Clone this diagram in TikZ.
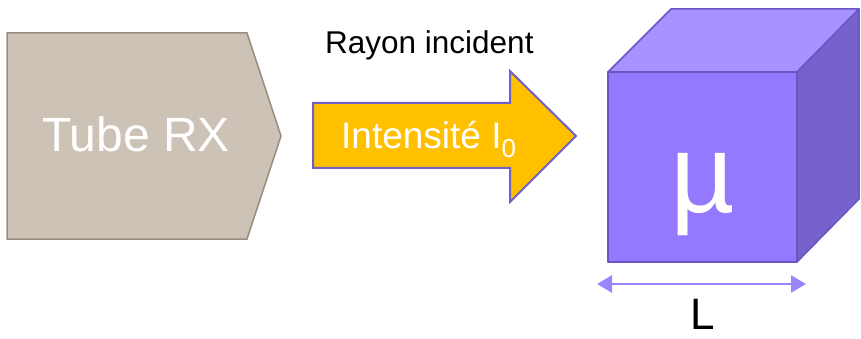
\documentclass[tikz,border=0pt]{standalone}
\usepackage{fontspec}
\setmainfont{Liberation Sans}
\usetikzlibrary{arrows.meta}
\definecolor{tubefill}{HTML}{CCC2B6}
\definecolor{tubeline}{HTML}{968C80}
\definecolor{arrowfill}{HTML}{FFC000}
\definecolor{arrowline}{HTML}{7060C8}
\definecolor{cubefront}{HTML}{9479FF}
\definecolor{cubetop}{HTML}{A892FF}
\definecolor{cubeside}{HTML}{7761CC}
\definecolor{cubeline}{HTML}{6A56C2}
\definecolor{dimline}{HTML}{9A85FF}
\tikzset{
  tubeshape/.style={fill=tubefill,draw=tubeline,line width=1.5pt,line join=miter},
  beamshape/.style={fill=arrowfill,draw=arrowline,line width=2pt,line join=miter},
  cubeface/.style={draw=cubeline,line width=1.5pt,line join=round},
  whitetext/.style={text=white,inner sep=0pt},
  blacktext/.style={text=black,inner sep=0pt},
  dimarrow/.style={draw=dimline,line width=2.5pt,{Triangle[length=15pt,width=17pt]}-{Triangle[length=15pt,width=17pt]}}
}
\begin{document}
\begin{tikzpicture}[x=1pt,y=-1pt]
\useasboundingbox (0,0) rectangle (861,339);
% Tube RX
\path[tubeshape] (7,33) -- (247,33) -- (281,136) -- (247,239) -- (7,239) -- cycle;
\node[whitetext,anchor=base] (tube) at (136,152) {\fontsize{48}{56}\selectfont Tube RX};
% Beam arrow
\path[beamshape] (313,103) -- (510,103) -- (510,71) -- (576,136) -- (510,202) -- (510,168) -- (313,168) -- cycle;
\node[whitetext,anchor=base west] (intens) at (341,149) {\fontsize{37}{44}\selectfont Intensité I\raisebox{-9pt}{\fontsize{26}{30}\selectfont 0}};
\node[blacktext,anchor=base west] (rayon) at (325,54) {\fontsize{31.5}{36}\selectfont Rayon incident};
% Cube
\path[cubeface,fill=cubetop] (608,72) -- (671,9) -- (859,9) -- (797,72) -- cycle;
\path[cubeface,fill=cubeside] (797,72) -- (859,9) -- (859,199) -- (797,262) -- cycle;
\path[cubeface,fill=cubefront] (608,72) rectangle (797,262);
\node[whitetext,anchor=base] (mu) at (703,212) {\fontsize{112}{130}\selectfont µ};
% Dimension
\coordinate (dl) at (597,284);
\coordinate (dr) at (806,284);
\draw[dimarrow] (dl) -- (dr);
\node[blacktext,anchor=base] (L) at (703,329) {\fontsize{44}{52}\selectfont L};
\end{tikzpicture}
\end{document}
